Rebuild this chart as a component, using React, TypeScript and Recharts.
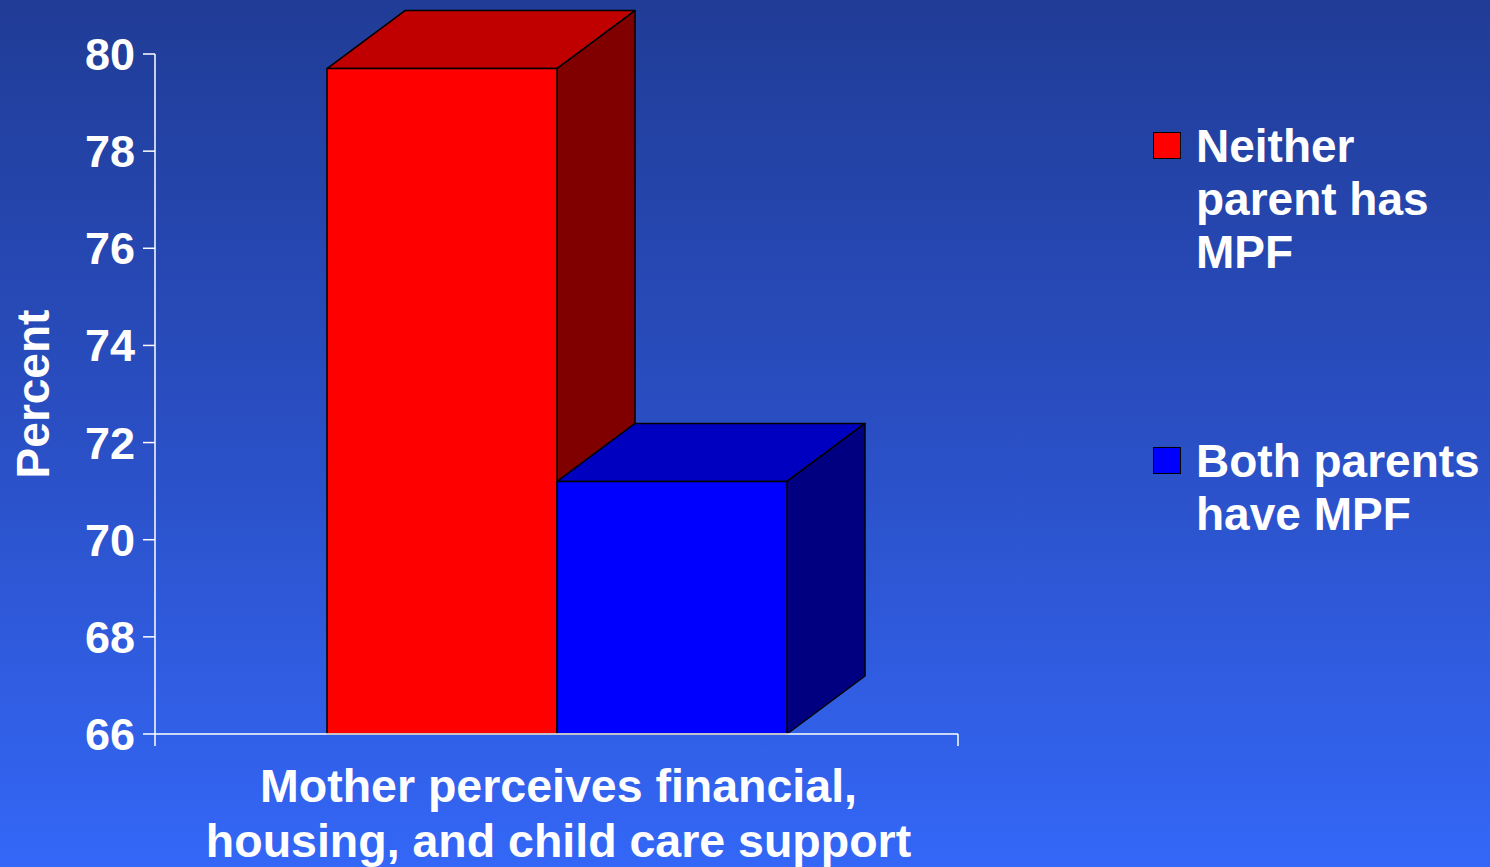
import React from 'react';
import { BarChart, Bar, XAxis, YAxis, Legend, Text } from 'recharts';

// data
const categories = ['Mother perceives financial, housing, and child care support'];
const categoryLines = [['Mother perceives financial,', 'housing, and child care support']];
const neitherParent = [79.7];
const bothParents = [71.2];
const seriesNames = ['Neither parent has MPF', 'Both parents have MPF'];
const yTicks = [66, 68, 70, 72, 74, 76, 78, 80];

const data = categories.map((category, i) => ({
  category,
  neither: neitherParent[i],
  both: bothParents[i],
}));

const FONT = '"Liberation Sans", Arial, sans-serif';
const DX = 78;
const DY = 58;

function makeBox(front: string, top: string, side: string) {
  return (props: any) => {
    const { x, y, width, height } = props;
    const r = x + width;
    const b = y + height;
    return (
      <g stroke="#000" strokeWidth={1.5} strokeLinejoin="round">
        <polygon points={`${x},${y} ${x + DX},${y - DY} ${r + DX},${y - DY} ${r},${y}`} fill={top} />
        <polygon points={`${r},${y} ${r + DX},${y - DY} ${r + DX},${b - DY} ${r},${b}`} fill={side} />
        <rect x={x} y={y} width={width} height={height} fill={front} />
      </g>
    );
  };
}

// category label plus the tick marks at both edges of the category band
const CategoryTick = (props: any) => {
  const { x, y, index, payload } = props;
  const lines = categoryLines[index] || [];
  const half = payload && typeof payload.offset === 'number' ? payload.offset : 0;
  return (
    <g>
      {half > 0 && (
        <g stroke="#fff" strokeWidth={1.5}>
          <line x1={x - half} y1={y} x2={x - half} y2={y + 12} />
          <line x1={x + half} y1={y} x2={x + half} y2={y + 12} />
        </g>
      )}
      <text x={x + 2} y={y + 68} textAnchor="middle" fill="#fff" fontFamily={FONT} fontWeight="bold" fontSize={46.5}>
        {lines.map((l, i) => (
          <tspan key={i} x={x + 2} dy={i === 0 ? 0 : 55}>{l}</tspan>
        ))}
      </text>
    </g>
  );
};

const PercentLabel = (props: any) => {
  const { viewBox } = props;
  return (
    <Text
      x={33}
      y={viewBox.y + viewBox.height / 2}
      angle={-90}
      textAnchor="middle"
      verticalAnchor="middle"
      fill="#fff"
      fontFamily={FONT}
      fontWeight="bold"
      fontSize={46}
    >
      Percent
    </Text>
  );
};

const renderLegend = (props: any) => {
  const items = [...(props.payload || [])].sort(
    (a: any, b: any) => seriesNames.indexOf(a.value) - seriesNames.indexOf(b.value)
  );
  return (
    <div style={{ fontFamily: FONT, fontWeight: 'bold', fontSize: 46, lineHeight: '53px', color: '#fff' }}>
      {items.map((entry: any, i: number) => (
        <div key={i} style={{ display: 'flex', alignItems: 'flex-start', height: i === 0 ? 315 : 'auto' }}>
          <div
            style={{
              width: 26,
              height: 25,
              background: entry.color,
              border: '1.5px solid #000',
              marginTop: 12,
              marginRight: 15,
              flex: 'none',
            }}
          />
          <div style={{ width: 300 }}>{entry.value}</div>
        </div>
      ))}
    </div>
  );
};

export default function App() {
  return (
    <div
      style={{
        position: 'absolute',
        left: 0,
        top: 0,
        width: 1490,
        height: 867,
        background: 'linear-gradient(to bottom, #203c96 0%, #2a4fc4 50%, #3467f7 100%)',
        overflow: 'hidden',
      }}
    >
      <BarChart
        width={1490}
        height={867}
        data={data}
        margin={{ top: 54, right: 532, bottom: 0, left: 0 }}
        barGap={0}
        barSize={230}
      >
        <XAxis
          dataKey="category"
          height={133}
          axisLine={{ stroke: '#fff', strokeWidth: 1.5 }}
          tickLine={false}
          tickSize={0}
          tickMargin={0}
          tick={<CategoryTick />}
        />
        <YAxis
          width={155}
          domain={[66, 80]}
          ticks={yTicks}
          interval={0}
          tickSize={12}
          tickMargin={8}
          axisLine={{ stroke: '#fff', strokeWidth: 1.5 }}
          tickLine={{ stroke: '#fff', strokeWidth: 1.5 }}
          tick={{ fill: '#fff', fontFamily: FONT, fontWeight: 'bold', fontSize: 45 }}
          label={{ content: PercentLabel }}
        />
        <Legend
          layout="vertical"
          align="center"
          verticalAlign="middle"
          wrapperStyle={{ left: 1153, top: 120, width: 337 }}
          content={renderLegend}
        />
        <Bar
          dataKey="neither"
          name={seriesNames[0]}
          fill="#ff0000"
          shape={makeBox('#ff0000', '#c00000', '#800000')}
          isAnimationActive={false}
        />
        <Bar
          dataKey="both"
          name={seriesNames[1]}
          fill="#0000ff"
          shape={makeBox('#0000ff', '#0000c0', '#000080')}
          isAnimationActive={false}
        />
      </BarChart>
    </div>
  );
}
